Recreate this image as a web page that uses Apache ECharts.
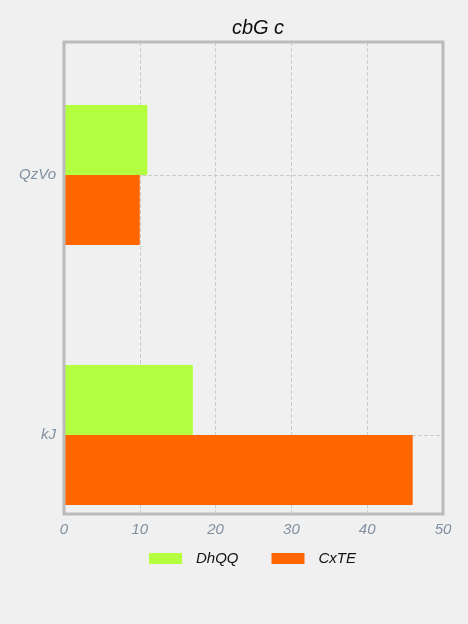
<!DOCTYPE html>
<html>
<head>
<meta charset="utf-8">
<style>
html,body{margin:0;padding:0;background:#f0f0f0;}
#chart{width:468px;height:624px;}
</style>
<script src="https://cdn.jsdelivr.net/npm/echarts@6/dist/echarts.min.js"></script>
</head>
<body>
<div id="chart"></div>
<script>
var categories = ['kJ', 'QzVo'];
var seriesNames = ['DhQQ', 'CxTE'];
var dhqqValues = [17, 11];
var cxteValues = [46, 10];
var xTicks = [0, 50, 10];

var labelFont = {color: '#8090a0', fontStyle: 'italic', fontSize: 15, fontFamily: 'Liberation Sans'};
var myChart = echarts.init(document.getElementById('chart'));
var option = {
	backgroundColor: '#f0f0f0',
	title: {
		text: 'cbG c',
		left: 253,
		textAlign: 'center',
		top: 13,
		textStyle: {color: '#111', fontStyle: 'italic', fontWeight: 'normal', fontSize: 20, fontFamily: 'Liberation Sans'}
	},
	legend: {
		data: seriesNames,
		left: 144,
		top: 546,
		itemWidth: 33,
		itemHeight: 11,
		itemGap: 33,
		icon: 'rect',
		textStyle: {color: '#111', fontStyle: 'italic', fontSize: 15, fontFamily: 'Liberation Sans', padding: [0, 0, 0, 9]}
	},
	grid: [
		{left: 64, right: 25, top: 42, bottom: 110, show: true, z: 5, borderColor: '#bbbbbb', borderWidth: 3, backgroundColor: 'transparent'},
		{left: 64, right: 25, top: 175, bottom: 189}
	],
	xAxis: [
		{
			gridIndex: 0, type: 'value', min: xTicks[0], max: xTicks[1], interval: xTicks[2],
			axisLine: {show: false}, axisTick: {show: false},
			axisLabel: labelFont,
			splitLine: {show: true, lineStyle: {color: '#cccccc', type: 'dashed'}}
		},
		{
			gridIndex: 1, type: 'value', min: xTicks[0], max: xTicks[1], interval: xTicks[2], show: false,
			splitLine: {show: false}
		}
	],
	yAxis: [
		{gridIndex: 0, type: 'value', show: false, splitLine: {show: false}},
		{
			gridIndex: 1, type: 'category', data: categories, boundaryGap: false,
			axisLine: {show: false}, axisTick: {show: false},
			axisLabel: labelFont,
			splitLine: {show: true, lineStyle: {color: '#cccccc', type: 'dashed'}}
		}
	],
	series: [
		{name: seriesNames[0], type: 'bar', xAxisIndex: 1, yAxisIndex: 1, data: dhqqValues, barWidth: 70, barGap: '0%', clip: false, itemStyle: {color: '#b3ff40'}},
		{name: seriesNames[1], type: 'bar', xAxisIndex: 1, yAxisIndex: 1, data: cxteValues, barWidth: 70, barGap: '0%', clip: false, itemStyle: {color: '#ff6600'}}
	]
};
myChart.setOption(option);
</script>
</body>
</html>
